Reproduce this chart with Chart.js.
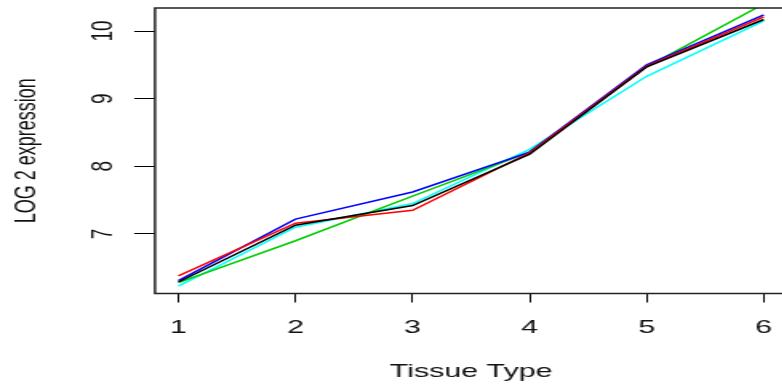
<!DOCTYPE html>
<html>
<head>
<meta charset="utf-8">
<script src="https://cdn.jsdelivr.net/npm/chart.js@4/dist/chart.umd.min.js"></script>
<style>
  html, body { margin: 0; padding: 0; background: #fff; overflow: hidden; }
  /* the reference is horizontally stretched, so draw narrow and stretch */
  #wrap { width: 500px; height: 384px; transform: scaleX(1.6); transform-origin: 0 0; }
</style>
</head>
<body>
<div id="wrap"><canvas id="chart" width="500" height="384"></canvas></div>
<script>
// data
const tissueTypes = [1, 2, 3, 4, 5, 6]
const blackSeries = [6.29, 7.13, 7.42, 8.18, 9.47, 10.17]
const redSeries = [6.38, 7.16, 7.35, 8.20, 9.48, 10.21]
const greenSeries = [6.28, 6.90, 7.56, 8.21, 9.47, 10.40]
const blueSeries = [6.31, 7.22, 7.62, 8.21, 9.50, 10.24]
const cyanSeries = [6.23, 7.10, 7.45, 8.25, 9.33, 10.15]
const xTicks = [1, 2, 3, 4, 5, 6]
const yTicks = [7, 8, 9, 10]

const toPoints = (vals) => vals.map((v, i) => ({ x: tissueTypes[i], y: v }))

const line = (vals, color) => ({
  data: toPoints(vals),
  borderColor: color,
  borderWidth: 1.5,
  pointRadius: 0,
  fill: false,
  tension: 0,
})

// box round the plot area, like R's bty="o"
const boxPlugin = {
  id: "box",
  afterDraw(chart) {
    const { ctx, chartArea: a } = chart
    ctx.save()
    ctx.strokeStyle = "#222"
    ctx.lineWidth = 1.5
    ctx.strokeRect(a.left, a.top, a.right - a.left, a.bottom - a.top)
    ctx.restore()
  },
}

const font = { family: "'Liberation Sans', Arial, sans-serif", size: 19 }

new Chart(document.getElementById("chart"), {
  type: "line",
  data: {
    datasets: [
      line(blackSeries, "#000000"),
      line(redSeries, "#ff0000"),
      line(blueSeries, "#0000ff"),
      line(greenSeries, "#00cd00"),
      line(cyanSeries, "#00ffff"),
    ],
  },
  options: {
    responsive: false,
    animation: false,
    devicePixelRatio: 1,
    layout: { padding: { left: 0, right: 8, top: 8, bottom: 0 } },
    plugins: { legend: { display: false }, tooltip: { enabled: false } },
    scales: {
      x: {
        type: "linear",
        min: 0.8,
        max: 6.2,
        afterBuildTicks: (s) => { s.ticks = xTicks.map((v) => ({ value: v })) },
        afterFit: (s) => { s.height = 90.5; s.paddingLeft = 0; s.paddingRight = 0 },
        border: { display: false },
        grid: { drawOnChartArea: false, tickLength: 9, tickColor: "#000", lineWidth: 1 },
        ticks: { color: "#111", font, padding: 14, maxRotation: 0 },
        title: { display: true, text: "Tissue Type", color: "#111", font, padding: { top: 0, bottom: 1 } },
      },
      y: {
        min: 6.12,
        max: 10.34,
        afterBuildTicks: (s) => { s.ticks = yTicks.map((v) => ({ value: v })) },
        afterFit: (s) => { s.width = 96.9; s.paddingTop = 0; s.paddingBottom = 0 },
        border: { display: false },
        grid: { drawOnChartArea: false, tickLength: 13, tickColor: "#000", lineWidth: 1 },
        ticks: { color: "#111", font, padding: 9, minRotation: 90, maxRotation: 90, crossAlign: "center" },
        title: { display: true, text: "LOG 2 expression", color: "#111", font: { ...font, size: 18 }, padding: { top: 6, bottom: 0 } },
      },
    },
  },
  plugins: [boxPlugin],
})
</script>
</body>
</html>
